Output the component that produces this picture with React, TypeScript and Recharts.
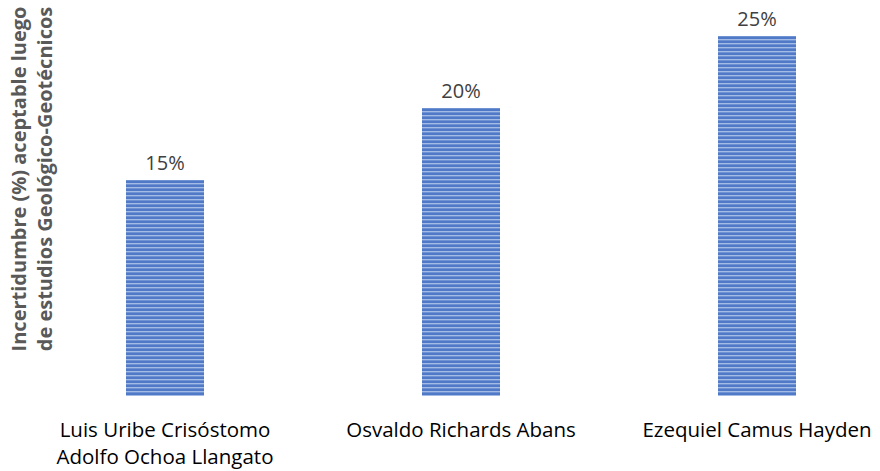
import React from 'react';
import { BarChart, Bar, XAxis, YAxis, LabelList } from 'recharts';

const categories = [
  'Luis Uribe Crisóstomo\nAdolfo Ochoa Llangato',
  'Osvaldo Richards Abans',
  'Ezequiel Camus Hayden',
];
const values = [15, 20, 25];
const yAxisLabelLines = [
  'Incertidumbre (%) aceptable luego',
  'de estudios Geológico-Geotécnicos',
];

const data = categories.map((name, i) => ({ name, value: values[i] }));

const FONT = '"Open Sans", sans-serif';

const Tick = (props: any) => {
  const { x, y, payload } = props;
  const lines = String(payload.value).split('\n');
  return (
    <g>
      {lines.map((line: string, i: number) => (
        <text
          key={i}
          x={x}
          y={y + 41 + i * 27}
          textAnchor="middle"
          fontFamily={FONT}
          fontSize={20.5}
          fill="#000000"
        >
          {line}
        </text>
      ))}
    </g>
  );
};

const ValueLabel = (props: any) => {
  const { x, y, width, value } = props;
  return (
    <text
      x={x + width / 2}
      y={y - 10}
      textAnchor="middle"
      fontFamily={FONT}
      fontSize={20}
      fill="#404040"
    >
      {`${value}%`}
    </text>
  );
};

export default function App() {
  return (
    <div
      style={{
        position: 'absolute',
        left: 0,
        top: 0,
        width: 880,
        height: 471,
        overflow: 'hidden',
        background: '#ffffff',
      }}
    >
      <BarChart
        width={910}
        height={471}
        data={data}
        margin={{ top: 36, right: 5, left: 17, bottom: 5 }}
      >
        <defs>
          <pattern id="stripes" patternUnits="userSpaceOnUse" width="4" height="4">
            <rect x="0" y="0" width="4" height="4" fill="#A4BBE5" />
            <rect x="0" y="0" width="4" height="1" fill="#6F92D3" />
            <rect x="0" y="1" width="4" height="2" fill="#5079C8" />
          </pattern>
        </defs>
        <XAxis
          dataKey="name"
          axisLine={false}
          tickLine={false}
          tickSize={0}
          tickMargin={0}
          height={70}
          interval={0}
          tick={<Tick />}
        />
        <YAxis hide domain={[0, 25]} />
        <Bar dataKey="value" fill="url(#stripes)" barSize={78} isAnimationActive={false}>
          <LabelList dataKey="value" content={<ValueLabel />} />
        </Bar>
      </BarChart>
      <svg
        width={80}
        height={471}
        style={{ position: 'absolute', left: 0, top: 0, pointerEvents: 'none' }}
      >
        {yAxisLabelLines.map((line, i) => (
          <text
            key={i}
            x={26 + i * 26}
            y={179}
            transform={`rotate(-90, ${26 + i * 26}, 179)`}
            textAnchor="middle"
            fontFamily={FONT}
            fontWeight="bold"
            fontSize={20}
            fill="#595959"
          >
            {line}
          </text>
        ))}
      </svg>
    </div>
  );
}
